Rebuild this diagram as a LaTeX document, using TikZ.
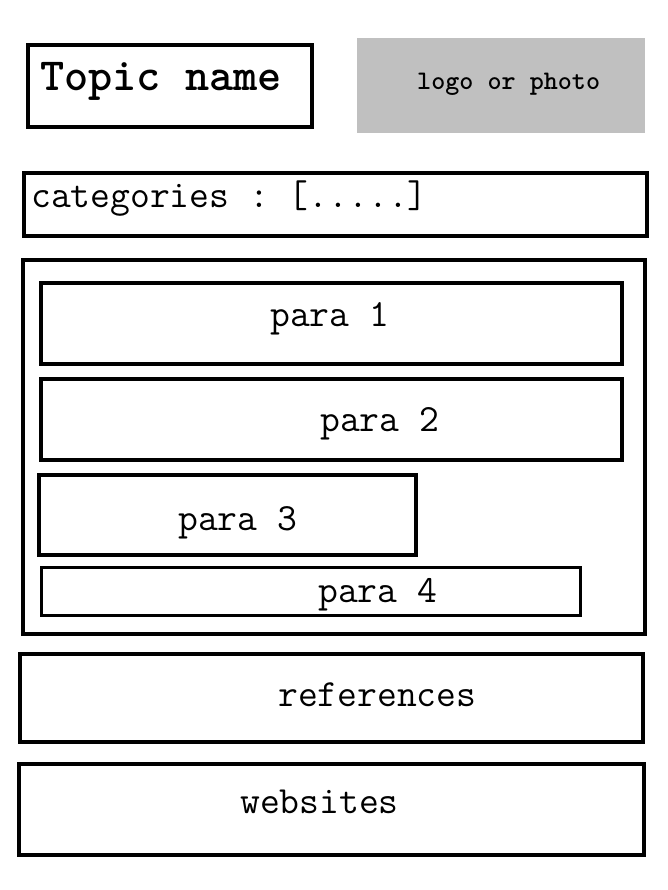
\documentclass[tikz,border=0pt]{standalone}
\usepackage{tikz}
\frenchspacing

\definecolor{photogray}{HTML}{C0C0C0}

\begin{document}
\begin{tikzpicture}[x=1pt,y=-1pt,
                    box/.style={draw,rectangle,line width=4pt,inner sep=0pt},
                    txt/.style={anchor=base west,inner sep=0pt,font=\ttfamily\fontsize{38.5}{41}\selectfont}]

  \useasboundingbox (0,0) rectangle (668,890);

  % header
  \node[box,minimum width=284pt,minimum height=82pt] (topic) at (170,86) {};
  \node[rectangle,fill=photogray,minimum width=288pt,minimum height=95pt] (logo) at (501,85.5) {};
  \node[txt,font=\ttfamily\bfseries\fontsize{46}{50}\selectfont] (topictext) at (40,91) {Topic name};
  \node[txt,font=\ttfamily\bfseries\fontsize{26.8}{29}\selectfont] (logotext) at (417,90) {logo or photo};

  \node[box,minimum width=623pt,minimum height=63pt] (cats) at (335.5,204.5) {};
  \node[txt] (catstext) at (31,208) {categories : [.....]};

  % body with paragraphs
  \node[box,minimum width=622pt,minimum height=374pt] (body) at (334,447) {};
  \node[box,minimum width=581pt,minimum height=81pt] (p1) at (331.5,323.5) {};
  \node[box,minimum width=581pt,minimum height=81pt] (p2) at (331.5,419.5) {};
  \node[box,minimum width=377pt,minimum height=80pt] (p3) at (227.5,515) {};
  \node[box,line width=3pt,minimum width=539pt,minimum height=48pt] (p4) at (311,591.5) {};
  \node[txt] (p1text) at (270,326) {para 1};
  \node[txt] (p2text) at (320,431) {para 2};
  \node[txt] (p3text) at (178,530) {para 3};
  \node[txt] (p4text) at (318,602) {para 4};

  % footer
  \node[box,minimum width=623pt,minimum height=88pt] (refs) at (331.5,698) {};
  \node[box,minimum width=625pt,minimum height=91pt] (webs) at (331.5,809.5) {};
  \node[txt] (refstext) at (278,706) {references};
  \node[txt] (webstext) at (240,813) {websites};
\end{tikzpicture}
\end{document}
